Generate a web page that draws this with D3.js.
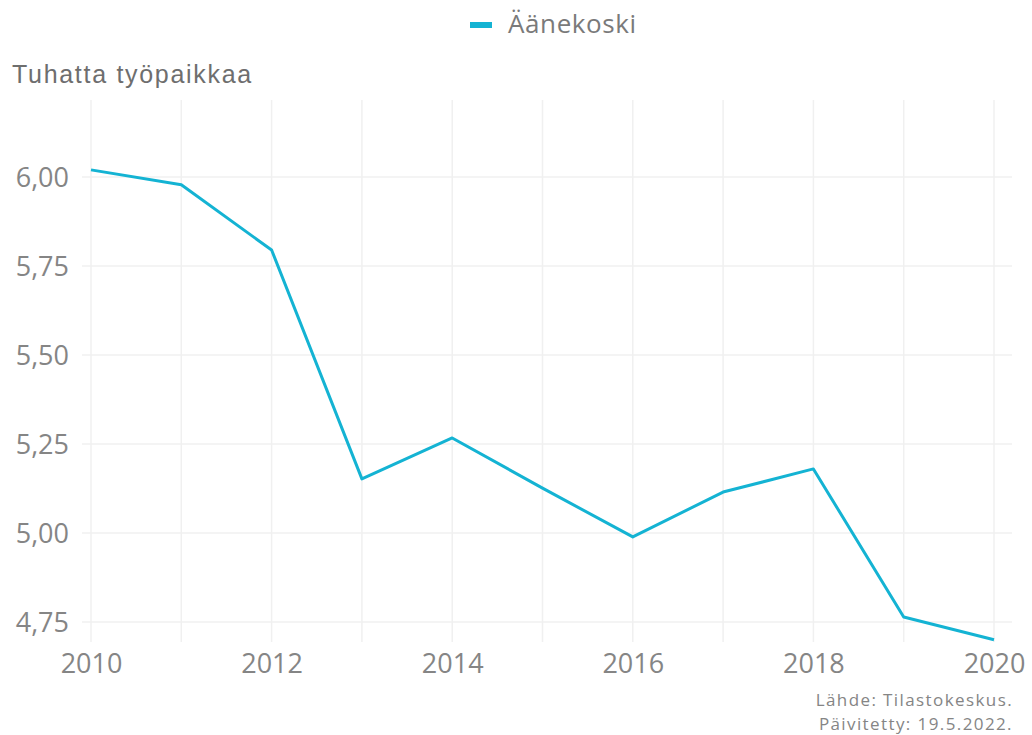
<!DOCTYPE html>
<html><head><meta charset="utf-8">
<script src="https://cdn.jsdelivr.net/npm/d3@7"></script>
<style>body{margin:0;background:#fff}</style>
</head><body>
<script>
const years = [2010,2011,2012,2013,2014,2015,2016,2017,2018,2019,2020];
const values = [6.02,5.978,5.795,5.152,5.267,5.126,4.989,5.115,5.180,4.764,4.700];
const yTicks = [4.75,5.00,5.25,5.50,5.75,6.00];
const xTicks = [2010,2012,2014,2016,2018,2020];
const seriesName = "Äänekoski";
const yTitle = "Tuhatta työpaikkaa";
const caption = ["Lähde: Tilastokeskus.","Päivitetty: 19.5.2022."];

const W=1032,H=735;
const svg=d3.select("body").append("svg").attr("width",W).attr("height",H);
const x=d3.scaleLinear().domain([2010,2020]).range([91,994]);
const y=d3.scaleLinear().domain([4.75,6.00]).range([622,177]);
const gTop=100,gBottom=642,gLeft=82,gRight=1012;
const grid="#f0f0f0";
const font="'Open Sans', 'Noto Sans', sans-serif";
const tickColor="#858585";
// grid
svg.append("g").selectAll("line").data(yTicks).join("line")
 .attr("x1",gLeft).attr("x2",gRight).attr("y1",d=>y(d)).attr("y2",d=>y(d))
 .attr("stroke",grid).attr("stroke-width",1.5);
svg.append("g").selectAll("line").data(years).join("line")
 .attr("x1",d=>x(d)).attr("x2",d=>x(d)).attr("y1",gTop).attr("y2",gBottom)
 .attr("stroke",grid).attr("stroke-width",1.5);
// axes
const yAxis=d3.axisLeft(y).tickValues(yTicks).tickSize(0).tickPadding(0)
 .tickFormat(d=>d3.format(".2f")(d).replace(".",","));
const ga=svg.append("g").attr("transform","translate(69,0)").call(yAxis);
ga.select(".domain").remove();
ga.selectAll("text").attr("font-family",font).attr("font-size",27).attr("fill",tickColor).attr("dy","0.36em");
const xAxis=d3.axisBottom(x).tickValues(xTicks).tickSize(0).tickPadding(0).tickFormat(d3.format("d"));
const gx=svg.append("g").attr("transform","translate(0,673)").call(xAxis);
gx.select(".domain").remove();
gx.selectAll("text").attr("font-family",font).attr("font-size",27).attr("fill",tickColor).attr("y",0).attr("dy","0");
// line
const line=d3.line().x((d,i)=>x(years[i])).y(d=>y(d));
svg.append("path").datum(values).attr("d",line).attr("fill","none")
 .attr("stroke","#14b3d3").attr("stroke-width",3).attr("stroke-linejoin","round");
// title
svg.append("text").attr("x",12).attr("y",83).text(yTitle)
 .attr("font-family","'Liberation Sans', Arial, sans-serif").attr("font-size",25).attr("letter-spacing",1.7).attr("fill","#6e6e6e");
// legend
svg.append("line").attr("x1",470).attr("x2",492).attr("y1",25).attr("y2",25).attr("stroke","#14b3d3").attr("stroke-width",6);
svg.append("text").attr("x",508).attr("y",33).text(seriesName)
 .attr("font-family",font).attr("font-size",26).attr("letter-spacing",0.6).attr("fill","#7a7a7a");
// caption
svg.append("g").selectAll("text").data(caption).join("text")
 .attr("x",1013).attr("y",(d,i)=>706+i*24).attr("text-anchor","end").text(d=>d)
 .attr("font-family",font).attr("font-size",17).attr("letter-spacing",1.4).attr("fill",tickColor);
</script>
</body></html>
